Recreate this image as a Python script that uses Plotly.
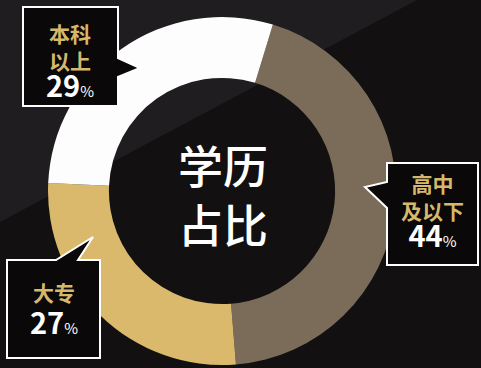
import plotly.graph_objects as go

# Education breakdown (percent)
categories = ["高中及以下", "大专", "本科以上"]
values = [44, 27, 29]
slice_colors = ["#7a6c59", "#dab96d", "#fdfdfd"]

# Callout label lines for each category
callout_lines = {
    "高中及以下": ["高中", "及以下"],
    "大专": ["大专"],
    "本科以上": ["本科", "以上"],
}

W, H = 481, 368
FONT = "Noto Sans CJK SC"
GOLD = "#d6b86c"
BG_DARK = "#131011"
BG_LIGHT = "#1f1d1f"


def px(x):
    return x / W


def py(y):
    return 1 - y / H


def path(points):
    pts = [f"{px(x):.5f},{py(y):.5f}" for x, y in points]
    return "M " + " L ".join(pts) + " Z"


fig = go.Figure()

fig.add_trace(go.Pie(
    labels=categories,
    values=values,
    sort=False,
    direction="clockwise",
    rotation=17,
    hole=0.65,
    marker=dict(colors=slice_colors, line=dict(width=0)),
    textinfo="none",
    hoverinfo="label+percent",
    showlegend=False,
    domain=dict(x=[px(48), px(396)], y=[py(365), py(17)]),
))

shapes = []
# diagonal lighter band in the upper-left of the background
shapes.append(dict(type="path", xref="paper", yref="paper", layer="below",
                   path=path([(0, 0), (417, 0), (0, 222)]),
                   fillcolor=BG_LIGHT, line=dict(width=0)))

# speech-bubble callouts (box outline with pointer)
bubbles = {
    "本科以上": [(23, 7), (118, 7), (118, 58), (140, 68), (118, 77), (118, 106), (23, 106)],
    "高中及以下": [(387, 163), (478, 163), (478, 265), (387, 265), (387, 208), (365, 187), (387, 182)],
    "大专": [(7, 260), (56, 260), (93, 237), (78, 260), (100, 260), (100, 358), (7, 358)],
}
for cat in categories:
    shapes.append(dict(type="path", xref="paper", yref="paper", layer="above",
                       path=path(bubbles[cat]), fillcolor="#0a0808",
                       line=dict(color="#ffffff", width=2)))

annotations = []
# centre title
annotations.append(dict(x=px(223), y=py(194), xref="paper", yref="paper",
                        xanchor="center", yanchor="middle",
                        text="学历<br>占比", showarrow=False,
                        font=dict(family=FONT, size=45, color="#ffffff", weight=500)))

# callout text: label lines in gold, percentage in white
# (centre x, centre y, line pitch)
callout_pos = {
    "本科以上": (70, 61, 21),
    "高中及以下": (432, 211, 21),
    "大专": (54, 309, 25),
}
for cat, val in zip(categories, values):
    cx, cy, pitch = callout_pos[cat]
    label = "<br>".join(callout_lines[cat])
    text = (f"<span style='color:{GOLD};font-size:21px'><b>{label}</b></span><br>"
            f"<span style='font-size:29px'><b>{val}</b></span>"
            f"<span style='font-size:15px'>%</span>")
    annotations.append(dict(
        x=px(cx), y=py(cy), xref="paper", yref="paper",
        xanchor="center", yanchor="middle", showarrow=False,
        text=text,
        font=dict(family=FONT, size=pitch, color="#ffffff")))

fig.update_layout(
    width=W, height=H,
    margin=dict(l=0, r=0, t=0, b=0),
    paper_bgcolor=BG_DARK,
    plot_bgcolor=BG_DARK,
    shapes=shapes,
    annotations=annotations,
)

fig.write_html("out.html")
